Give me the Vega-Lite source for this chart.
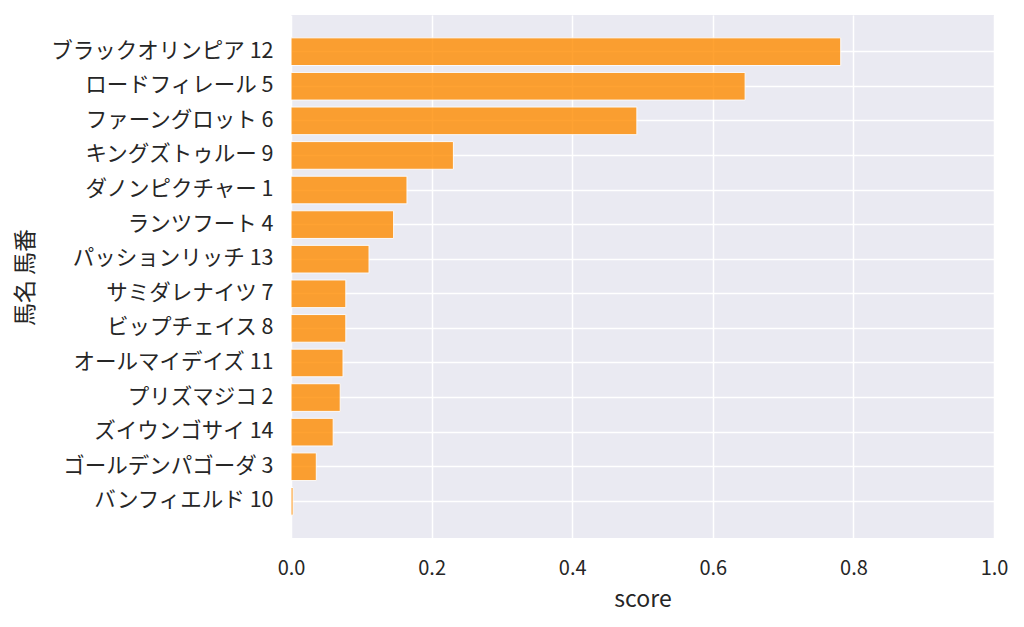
{
  "$schema": "https://vega.github.io/schema/vega-lite/v6.json",
  "autosize": {"type": "none"},
  "padding": {"left": 291, "top": 15, "right": 30, "bottom": 89},
  "width": 703,
  "height": 523,
  "background": "white",
  "config": {
    "font": "Noto Sans CJK JP",
    "view": {"fill": "#EAEAF2", "stroke": null}
  },
  "data": {
    "values": [
      {"horse": "ブラックオリンピア 12", "score": 0.782},
      {"horse": "ロードフィレール 5", "score": 0.646},
      {"horse": "ファーングロット 6", "score": 0.492},
      {"horse": "キングズトゥルー 9", "score": 0.231},
      {"horse": "ダノンピクチャー 1", "score": 0.165},
      {"horse": "ランツフート 4", "score": 0.146},
      {"horse": "パッションリッチ 13", "score": 0.111},
      {"horse": "サミダレナイツ 7", "score": 0.078},
      {"horse": "ビップチェイス 8", "score": 0.078},
      {"horse": "オールマイデイズ 11", "score": 0.074},
      {"horse": "プリズマジコ 2", "score": 0.070},
      {"horse": "ズイウンゴサイ 14", "score": 0.060},
      {"horse": "ゴールデンパゴーダ 3", "score": 0.036},
      {"horse": "バンフィエルド 10", "score": 0.003}
    ]
  },
  "mark": {"type": "bar", "color": "#ff8c00", "opacity": 0.8, "stroke": "white", "strokeWidth": 1},
  "encoding": {
    "y": {
      "field": "horse",
      "type": "nominal",
      "sort": null,
      "scale": {"paddingInner": 0.2, "paddingOuter": 0.66},
      "axis": {
        "title": "馬名 馬番",
        "titleFontSize": 23,
        "titleFontWeight": "normal",
        "titleColor": "#262626",
        "titleX": -266,
        "titleY": 262,
        "titleAngle": -90,
        "titleAlign": "center",
        "titleBaseline": "middle",
        "labelFontSize": 21.5,
        "labelColor": "#262626",
        "labelPadding": 18,
        "labelLimit": 400,
        "ticks": false,
        "domain": false,
        "grid": true,
        "gridColor": "white",
        "gridWidth": 1.5,
        "bandPosition": 0.5
      }
    },
    "x": {
      "field": "score",
      "type": "quantitative",
      "scale": {"domain": [0, 1], "nice": false},
      "axis": {
        "title": "score",
        "titleFontSize": 23,
        "titleFontWeight": "normal",
        "titleColor": "#262626",
        "titlePadding": 10,
        "labelFontSize": 20,
        "labelColor": "#262626",
        "labelPadding": 20,
        "values": [0, 0.2, 0.4, 0.6, 0.8, 1.0],
        "format": ".1f",
        "labelFlush": false,
        "ticks": false,
        "domain": false,
        "grid": true,
        "gridColor": "white",
        "gridWidth": 1.5
      }
    }
  }
}
